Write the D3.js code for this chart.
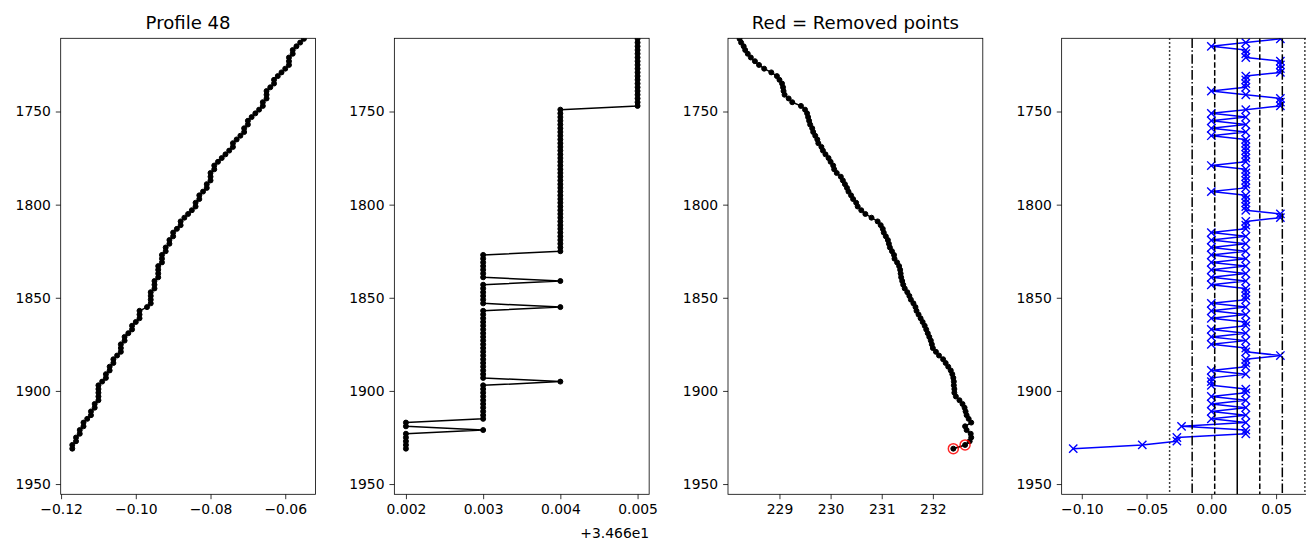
<!DOCTYPE html>
<html><head><meta charset="utf-8">
<script src="https://cdn.jsdelivr.net/npm/d3@7"></script>
<style>body{margin:0;background:#fff;} text{font-family:"DejaVu Sans",sans-serif;}</style>
</head><body><svg id="chart" width="1306" height="542"></svg>
<script>
// ---------------- data ----------------
const depth = [
 1711,1713,1715,1717,1719,1721,1723,1725,1727,1729,
 1731,1733,1735,1737,1739,1741,1743,1745,1747,1749,
 1751,1753,1755,1757,1759,1761,1763,1765,1767,1769,
 1771,1773,1775,1777,1779,1781,1783,1785,1787,1789,
 1791,1793,1795,1797,1799,1801,1803,1805,1807,1809,
 1811,1813,1815,1817,1819,1821,1823,1825,1827,1829,
 1831,1833,1835,1837,1839,1841,1843,1845,1847,1849,
 1851,1853,1855,1857,1859,1861,1863,1865,1867,1869,
 1871,1873,1875,1877,1879,1881,1883,1885,1887,1889,
 1891,1893,1895,1897,1899,1901,1903,1905,1907,1909,
 1911,1913,1915,1917,1919,1921,1923,1925,1927,1929,
 1931];
const temperature = [
 -0.055,-0.056,-0.057,-0.058,-0.058,-0.059,-0.059,-0.059,-0.060,-0.061,
 -0.062,-0.063,-0.063,-0.064,-0.065,-0.065,-0.065,-0.066,-0.066,-0.067,
 -0.068,-0.069,-0.070,-0.070,-0.071,-0.071,-0.072,-0.073,-0.074,-0.074,
 -0.075,-0.076,-0.077,-0.078,-0.079,-0.079,-0.080,-0.080,-0.080,-0.081,
 -0.081,-0.082,-0.083,-0.083,-0.084,-0.084,-0.085,-0.086,-0.087,-0.088,
 -0.088,-0.089,-0.090,-0.090,-0.091,-0.091,-0.092,-0.092,-0.093,-0.093,
 -0.093,-0.094,-0.094,-0.094,-0.094,-0.095,-0.095,-0.095,-0.096,-0.096,
 -0.096,-0.096,-0.097,-0.099,-0.099,-0.099,-0.100,-0.101,-0.101,-0.102,
 -0.103,-0.103,-0.104,-0.104,-0.104,-0.105,-0.106,-0.106,-0.107,-0.107,
 -0.108,-0.108,-0.109,-0.110,-0.110,-0.110,-0.110,-0.110,-0.111,-0.111,
 -0.112,-0.112,-0.113,-0.114,-0.114,-0.115,-0.115,-0.116,-0.116,-0.117,
 -0.117];
const salinity = [
 34.665,34.665,34.665,34.665,34.665,34.665,34.665,34.665,34.665,34.665,
 34.665,34.665,34.665,34.665,34.665,34.665,34.665,34.665,34.665,34.664,
 34.664,34.664,34.664,34.664,34.664,34.664,34.664,34.664,34.664,34.664,
 34.664,34.664,34.664,34.664,34.664,34.664,34.664,34.664,34.664,34.664,
 34.664,34.664,34.664,34.664,34.664,34.664,34.664,34.664,34.664,34.664,
 34.664,34.664,34.664,34.664,34.664,34.664,34.664,34.664,34.663,34.663,
 34.663,34.663,34.663,34.663,34.663,34.664,34.663,34.663,34.663,34.663,
 34.663,34.663,34.664,34.663,34.663,34.663,34.663,34.663,34.663,34.663,
 34.663,34.663,34.663,34.663,34.663,34.663,34.663,34.663,34.663,34.663,
 34.663,34.663,34.664,34.663,34.663,34.663,34.663,34.663,34.663,34.663,
 34.663,34.663,34.663,34.662,34.662,34.663,34.662,34.662,34.662,34.662,
 34.662];
const oxygen = [
 228.22,228.25,228.30,228.33,228.38,228.44,228.52,228.60,228.70,228.84,
 228.95,229.00,229.05,229.07,229.08,229.10,229.18,229.25,229.42,229.50,
 229.54,229.56,229.58,229.60,229.64,229.66,229.70,229.74,229.76,229.82,
 229.85,229.90,229.96,230.00,230.05,230.07,230.12,230.20,230.24,230.28,
 230.32,230.35,230.40,230.44,230.50,230.53,230.60,230.68,230.80,230.92,
 230.98,231.02,231.04,231.08,231.12,231.14,231.16,231.20,231.24,231.25,
 231.30,231.34,231.36,231.37,231.38,231.40,231.42,231.45,231.50,231.54,
 231.57,231.62,231.66,231.68,231.72,231.76,231.80,231.84,231.87,231.90,
 231.93,231.96,231.98,232.00,232.06,232.12,232.20,232.25,232.30,232.35,
 232.38,232.40,232.41,232.41,232.42,232.42,232.45,232.52,232.58,232.62,
 232.64,232.66,232.70,232.75,232.63,232.66,232.74,232.75,232.72,232.63,
 232.40];
const gradient = [
 0.0533,0.0266,0,0.0266,0.0266,0.0266,0.0533,0.0533,0.0533,0.0533,
 0.0266,0.0266,0.0266,0.0266,0,0.0266,0.0533,0.0533,0.0533,0.0266,
 0,0.0266,0,0.0266,0,0.0266,0,0.0266,0.0266,0.0266,
 0.0266,0.0266,0.0266,0.0266,0,0.0266,0.0266,0.0266,0.0266,0.0266,
 0.0266,0,0.0266,0.0266,0.0266,0.0266,0.0266,0.0533,0.0533,0.0266,
 0.0266,0.0266,0,0.0266,0,0.0266,0,0.0266,0,0.0266,
 0,0.0266,0,0.0266,0,0.0266,0,0.0266,0.0266,0.0266,
 0.0266,0,0.0266,0,0.0266,0,0.0266,0.0266,0,0.0266,
 0,0.0266,0,0.0266,0.0266,0.0533,0.0266,0.0266,0.0266,0,
 0.0266,0,0,0,0.0266,0.0266,0,0.0266,0,0.0266,
 0,0.0266,0,0.0266,-0.023,0.0266,0.0266,-0.0266,-0.0266,-0.0533,
 -0.1066];
const removedIdx = [109, 110];
const gradMean = 0.0200;
const gradStd = 0.0174;
const depthLimits = [1710.7, 1955.5];
const depthTicks = [1750, 1800, 1850, 1900, 1950];
const tempTicks = [-0.12, -0.10, -0.08, -0.06];
const salTicks = [34.662, 34.663, 34.664, 34.665];
const salOffset = 34.66;
const salOffsetLabel = "+3.466e1";
const oxyTicks = [229, 230, 231, 232];
const gradTicks = [-0.10, -0.05, 0.00, 0.05];
const titles = ["Profile 48", "", "Red = Removed points", ""];

// ---------------- layout ----------------
const svg = d3.select("#chart");
const plotTop = 38.3, plotBottom = 494.3, pw = 254.8, firstLeft = 60.7, step = 333.65;
const tickLen = 4.9, tickPad = 4.9;
const y = d3.scaleLinear().domain(depthLimits).range([plotTop, plotBottom]);

function padded(vals) {
  const [a, b] = d3.extent(vals);
  const m = (b - a) * 0.05;
  return [a - m, b + m];
}

function makePanel(i, xDomain, xTicks, xFmt) {
  const left = firstLeft + i * step;
  const x = d3.scaleLinear().domain(xDomain).range([left, left + pw]);
  const g = svg.append("g");
  const cid = "clip" + i;
  svg.append("clipPath").attr("id", cid).append("rect")
    .attr("x", left).attr("y", plotTop).attr("width", pw).attr("height", plotBottom - plotTop);
  const plot = g.append("g").attr("clip-path", `url(#${cid})`);

  const ya = g.append("g").attr("transform", `translate(${left},0)`)
    .call(d3.axisLeft(y).tickValues(depthTicks).tickFormat(d3.format("d"))
      .tickSize(tickLen).tickPadding(tickPad).tickSizeOuter(0));
  const xa = g.append("g").attr("transform", `translate(0,${plotBottom})`)
    .call(d3.axisBottom(x).tickValues(xTicks).tickFormat(xFmt)
      .tickSize(tickLen).tickPadding(tickPad).tickSizeOuter(0));
  [ya, xa].forEach(a => {
    a.select(".domain").remove();
    a.selectAll(".tick line").attr("stroke", "#000").attr("stroke-width", 0.8);
    a.selectAll(".tick text").attr("fill", "#000").attr("font-size", "13.9px")
      .style("font-family", '"DejaVu Sans", sans-serif');
  });
  g.append("rect").attr("x", left).attr("y", plotTop).attr("width", pw).attr("height", plotBottom - plotTop)
    .attr("fill", "none").attr("stroke", "#000").attr("stroke-width", 0.8);
  if (titles[i]) {
    svg.append("text").attr("x", left + pw / 2).attr("y", 29)
      .attr("text-anchor", "middle").attr("font-size", "18.1px").attr("fill", "#000")
      .text(titles[i]);
  }
  return { x, plot, left };
}

function dotSeries(p, vals) {
  const line = d3.line().x((d, k) => p.x(vals[k])).y((d, k) => y(depth[k]));
  p.plot.append("path").datum(depth).attr("d", line)
    .attr("fill", "none").attr("stroke", "#000").attr("stroke-width", 1.5)
    .attr("stroke-linejoin", "round");
  p.plot.selectAll("circle.pt").data(depth).enter().append("circle")
    .attr("class", "pt")
    .attr("cx", (d, k) => p.x(vals[k])).attr("cy", d => y(d))
    .attr("r", 2.5).attr("fill", "#000").attr("stroke", "#000").attr("stroke-width", 1);
}

const fmt2 = d3.format(".2f");

const p1 = makePanel(0, padded(temperature), tempTicks, d => fmt2(d));
dotSeries(p1, temperature);

const p2 = makePanel(1, padded(salinity), salTicks, d => (d - salOffset).toFixed(3));
dotSeries(p2, salinity);
svg.append("text").attr("x", p2.left + pw).attr("y", 537.5).attr("text-anchor", "end")
  .attr("font-size", "13.9px").attr("fill", "#000").text(salOffsetLabel);

const p3 = makePanel(2, padded(oxygen), oxyTicks, d => d3.format("d")(d));
dotSeries(p3, oxygen);
p3.plot.selectAll("circle.rm").data(removedIdx).enter().append("circle")
  .attr("class", "rm")
  .attr("cx", k => p3.x(oxygen[k])).attr("cy", k => y(depth[k]))
  .attr("r", 5).attr("fill", "none").attr("stroke", "#ff0000")
  .attr("stroke-width", 1.5).attr("stroke-opacity", 0.85);

const sigmaLevels = [-3, -2, -1, 0, 1, 2, 3];
const thresh = sigmaLevels.map(k => gradMean + k * gradStd);
const p4 = makePanel(3, padded(gradient.concat(thresh)), gradTicks, d => fmt2(d));
const gLine = d3.line().x((d, k) => p4.x(gradient[k])).y((d, k) => y(depth[k]));
p4.plot.append("path").datum(depth).attr("d", gLine)
  .attr("fill", "none").attr("stroke", "#0000ff").attr("stroke-width", 1.5)
  .attr("stroke-linejoin", "round");
const ms = 4.15;
p4.plot.selectAll("path.xm").data(depth).enter().append("path")
  .attr("class", "xm")
  .attr("d", (d, k) => {
    const cx = p4.x(gradient[k]), cy = y(d);
    return `M${cx - ms},${cy - ms}L${cx + ms},${cy + ms}M${cx - ms},${cy + ms}L${cx + ms},${cy - ms}`;
  })
  .attr("stroke", "#0000ff").attr("stroke-width", 1.4).attr("fill", "none");
const dashFor = k => {
  const a = Math.abs(k);
  if (a === 0) return null;
  if (a === 1) return "5.55,2.4";
  if (a === 2) return "9.6,2.4,1.5,2.4";
  return "1.5,2.5";
};
p4.plot.selectAll("line.th").data(sigmaLevels).enter().append("line")
  .attr("class", "th")
  .attr("x1", k => p4.x(gradMean + k * gradStd)).attr("x2", k => p4.x(gradMean + k * gradStd))
  .attr("y1", plotTop).attr("y2", plotBottom)
  .attr("stroke", "#000").attr("stroke-width", 1.5)
  .attr("stroke-dasharray", k => dashFor(k));
</script>
</body></html>
